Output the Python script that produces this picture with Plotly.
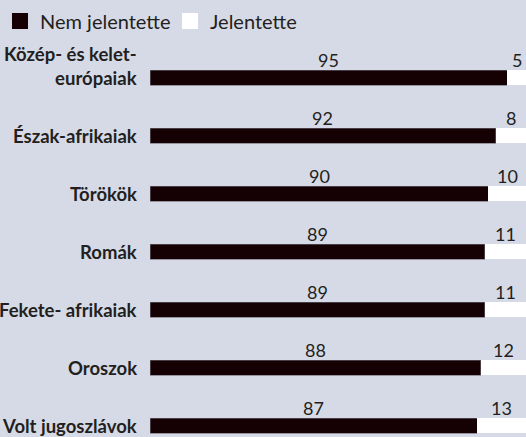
import plotly.graph_objects as go

categories = ["Közép- és kelet-<br>európaiak", "Észak-afrikaiak", "Törökök", "Romák",
              "Fekete- afrikaiak", "Oroszok", "Volt jugoszlávok"]
nem_jelentette = [95, 92, 90, 89, 89, 88, 87]
jelentette = [5, 8, 10, 11, 11, 12, 13]
series_names = ["Nem jelentette", "Jelentette"]

BG = "#d6dae6"
DARK = "#150003"
TXT = "#231f20"
FONT = "Lato"
colors = [DARK, "#ffffff"]

fig = go.Figure()
fig.add_trace(go.Bar(y=categories, x=nem_jelentette, orientation="h", name=series_names[0],
                     showlegend=False,
                     marker=dict(color=DARK, line=dict(color="#6b6570", width=0.6))))
fig.add_trace(go.Bar(y=categories, x=jelentette, orientation="h", name=series_names[1],
                     showlegend=False,
                     marker=dict(color="#ffffff", line=dict(width=0))))
# legend entries with larger square symbols
for name, c in zip(series_names, colors):
    fig.add_trace(go.Scatter(x=[None], y=[None], mode="markers", name=name,
                             marker=dict(symbol="square", size=16, color=c, line=dict(width=0))))

annotations = []
for cat, a, b in zip(categories, nem_jelentette, jelentette):
    annotations.append(dict(x=a / 2, y=cat, xref="x", yref="y", text=str(a), showarrow=False,
                            yshift=18, font=dict(family=FONT, size=18, color=TXT)))
    annotations.append(dict(x=a + b / 2, y=cat, xref="x", yref="y", text=str(b), showarrow=False,
                            yshift=18, font=dict(family=FONT, size=18, color=TXT)))
    two_line = "<br>" in cat
    annotations.append(dict(x=0, y=cat, xref="paper", yref="y", text="<b>" + cat + "</b>",
                            showarrow=False, xanchor="right", align="right",
                            xshift=-11, yshift=12 if two_line else 0,
                            font=dict(family=FONT, size=18.5, color=TXT)))

fig.update_layout(
    width=526, height=437,
    barmode="stack", bargap=0.74,
    paper_bgcolor=BG, plot_bgcolor=BG,
    margin=dict(l=150, r=0, t=48.5, b=0, autoexpand=False),
    showlegend=True,
    legend=dict(orientation="h", xref="container", yref="container", x=0.0, y=0.952,
                xanchor="left", yanchor="middle",
                font=dict(family=FONT, size=20, color=TXT), bgcolor="rgba(0,0,0,0)",
                entrywidth=125, traceorder="normal"),
    xaxis=dict(range=[0, 100], visible=False),
    yaxis=dict(type="category", range=[6.198, -0.5], showticklabels=False, showgrid=False,
               zeroline=False, showline=False),
    annotations=annotations,
)

fig.write_html("out.html", config={"displayModeBar": False},
               post_script="document.body.style.margin='0';document.body.style.overflow='hidden';")
